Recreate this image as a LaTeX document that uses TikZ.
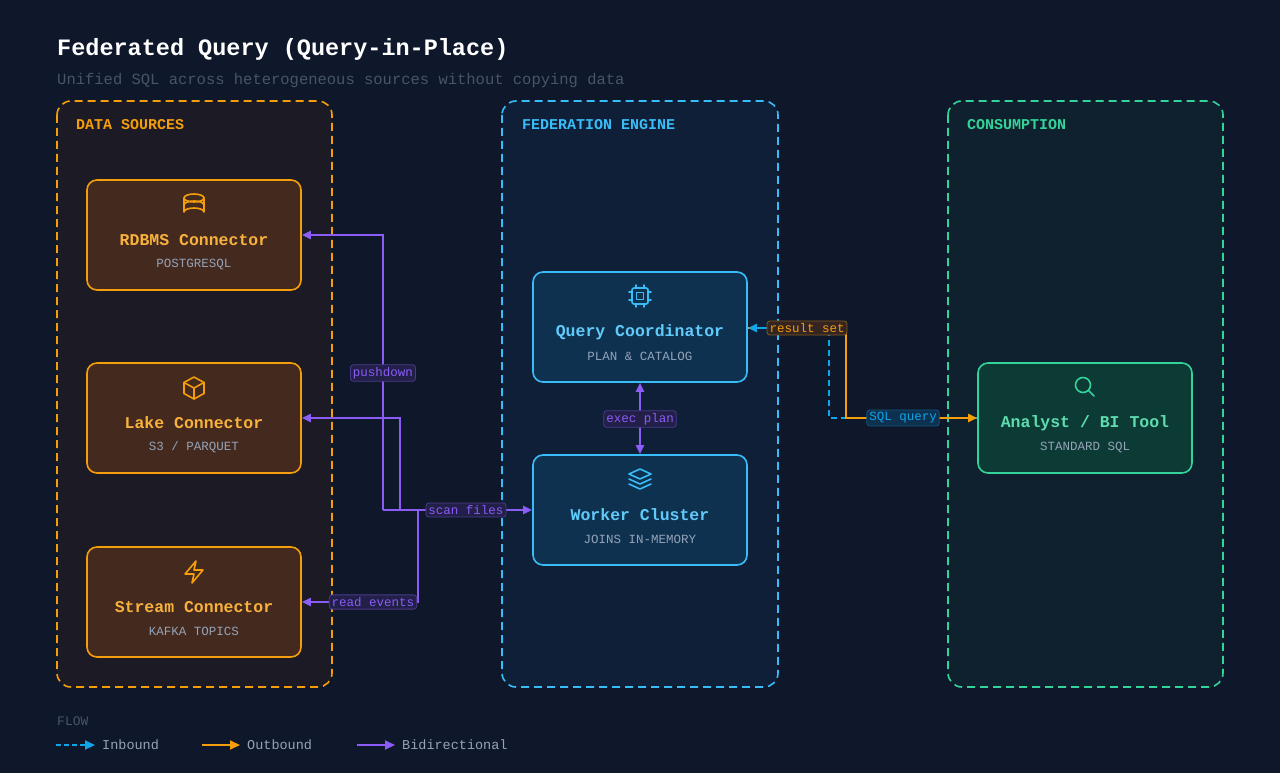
\documentclass[tikz,border=0pt]{standalone}
\usepackage{fontspec}
\setmainfont{Liberation Mono}
\usetikzlibrary{arrows.meta}
\definecolor{bg}{HTML}{0F172A}
\definecolor{org}{HTML}{F59E0B}
\definecolor{orgfill}{HTML}{44291E}
\definecolor{orggrp}{HTML}{1C1A24}
\definecolor{blu}{HTML}{38BDF8}
\definecolor{blufill}{HTML}{0E3150}
\definecolor{blugrp}{HTML}{0F1F38}
\definecolor{grn}{HTML}{34D399}
\definecolor{grnfill}{HTML}{0C3A35}
\definecolor{grngrp}{HTML}{0F202E}
\definecolor{pur}{HTML}{8B5CF6}
\definecolor{purfill}{HTML}{221F48}
\definecolor{purdraw}{HTML}{4A3A8A}
\definecolor{subc}{HTML}{94A3B8}
\definecolor{dimc}{HTML}{475569}
\definecolor{lblue}{HTML}{0EA5E9}
\tikzset{
  x=1pt,y=-1pt,
  grp/.style={draw=#1,dash pattern=on 8pt off 5pt,line width=1.6pt,rounded corners=14pt},
  box/.style={draw=#1,line width=1.6pt,rounded corners=10pt,minimum width=214pt,minimum height=110pt,inner sep=0pt},
  ttl/.style={font=\bfseries\fontsize{16.5}{18}\selectfont,text=#1},
  sub/.style={font=\fontsize{12.5}{14}\selectfont,text=subc},
  glbl/.style={font=\bfseries\fontsize{15}{16}\selectfont,text=#1,anchor=west},
  lbl/.style={font=\fontsize{12.5}{14}\selectfont,rounded corners=3pt,inner sep=2.5pt,line width=0.8pt},
  plbl/.style={lbl,fill=purfill,draw=purdraw,text=pur},
  pa/.style={draw=pur,line width=2pt,-{Triangle[length=9pt,width=8pt]}},
  ic/.style={line width=1.6pt,line join=round,line cap=round},
  leg/.style={anchor=west,text=subc,font=\fontsize{13.5}{15}\selectfont},
}
\begin{document}
\begin{tikzpicture}
\fill[bg] (0,0) rectangle (1280,773);
\useasboundingbox (0,0) rectangle (1280,773);
\node[anchor=west,inner sep=0pt,text=white,font=\bfseries\fontsize{23.5}{26}\selectfont] (title) at (57,49) {Federated Query (Query-in-Place)};
\node[anchor=west,inner sep=0pt,text=dimc,font=\fontsize{15.5}{17}\selectfont] (subtitle) at (57,80) {Unified SQL across heterogeneous sources without copying data};
% groups
\draw[grp=org,fill=orggrp] (57,101) rectangle (332,687);
\draw[grp=blu,fill=blugrp] (502,101) rectangle (778,687);
\draw[grp=grn,fill=grngrp] (948,101) rectangle (1223,687);
\node[glbl=org,inner sep=0pt] (g1) at (76,125) {DATA SOURCES};
\node[glbl=blu,inner sep=0pt] (g2) at (522,125) {FEDERATION ENGINE};
\node[glbl=grn,inner sep=0pt] (g3) at (967,125) {CONSUMPTION};
% nodes
\node[box=org,fill=orgfill] (rdbms) at (194,235) {};
\node[box=org,fill=orgfill] (lake) at (194,418) {};
\node[box=org,fill=orgfill] (stream) at (194,602) {};
\node[box=blu,fill=blufill] (coord) at (640,327) {};
\node[box=blu,fill=blufill] (worker) at (640,510) {};
\node[box=grn,fill=grnfill] (analyst) at (1085,418) {};
\foreach \n/\t/\s/\c in {rdbms/RDBMS Connector/POSTGRESQL/org, lake/Lake Connector/{S3 / PARQUET}/org, stream/Stream Connector/KAFKA TOPICS/org, coord/Query Coordinator/PLAN \& CATALOG/blu, worker/Worker Cluster/JOINS IN-MEMORY/blu, analyst/{Analyst / BI Tool}/STANDARD SQL/grn}{
  \node[ttl=\c!80!white] (\n-t) at ([yshift=-5pt]\n.center) {\t};
  \node[sub] (\n-s) at ([yshift=-29pt]\n.center) {\s};
}
% icons
\begin{scope}[ic,draw=org,shift={(194,205)}]
  \draw (0,-7) ellipse (10 and 4);
  \draw (-10,-7) -- (-10,7) arc[start angle=180,end angle=360,x radius=10,y radius=4] -- (10,-7);
  \draw (-10,0) arc[start angle=180,end angle=360,x radius=10,y radius=4];
\end{scope}
\begin{scope}[ic,draw=org,shift={(194,388)}]
  \draw (0,-11) -- (10,-5.5) -- (10,5.5) -- (0,11) -- (-10,5.5) -- (-10,-5.5) -- cycle;
  \draw (-10,-5.5) -- (0,0) -- (10,-5.5) (0,0) -- (0,11);
\end{scope}
\begin{scope}[ic,draw=org,shift={(194,572)}]
  \draw (2,-11) -- (-9,2) -- (0,2) -- (-2,11) -- (9,-2) -- (0,-2) -- cycle;
\end{scope}
\begin{scope}[ic,draw=blu,shift={(640,296)}]
  \draw[rounded corners=2pt] (-8,-8) rectangle (8,8);
  \draw (-3.5,-3.5) rectangle (3.5,3.5);
  \foreach \p in {-4,4}{\draw (\p,-8)--(\p,-11) (\p,8)--(\p,11) (-8,\p)--(-11,\p) (8,\p)--(11,\p);}
\end{scope}
\begin{scope}[ic,draw=blu,shift={(640,479)}]
  \draw (0,-10) -- (11,-5) -- (0,0) -- (-11,-5) -- cycle;
  \draw (-11,0) -- (0,5) -- (11,0);
  \draw (-11,5) -- (0,10) -- (11,5);
\end{scope}
\begin{scope}[ic,draw=grn,shift={(1085,387)}]
  \draw (-2,-2) circle (7.5);
  \draw (3.5,3.5) -- (9,9);
\end{scope}
% purple connectors
\coordinate (j1) at (383,510);
\coordinate (j2) at (400,510);
\coordinate (j3) at (418,510);
\draw[pa] (j1) -- (383,235) -- (rdbms.east |- 0,235);
\draw[pa] (j2) -- (400,418) -- (lake.east);
\draw[pa] (j3) -- (418,602) -- (stream.east);
\draw[pa] (j1) -- (worker.west);
\node[plbl] (l1) at (383,373) {pushdown};
\node[plbl] (l2) at (466,510) {scan files};
\node[plbl] (l3) at (373,602) {read events};
\draw[draw=pur,line width=2pt,{Triangle[length=9pt,width=8pt]}-{Triangle[length=9pt,width=8pt]}] (coord.south) -- (worker.north);
\node[plbl] (l4) at (640,419) {exec plan};
% right connectors
\draw[draw=lblue,line width=2pt,dash pattern=on 6pt off 4pt] (analyst.west) -- (829,418) -- (829,328);
\draw[draw=org,line width=2pt,-{Triangle[length=9pt,width=8pt]}] (coord.east |- 0,328) -- (846,328) -- (846,418) -- (analyst.west);
\draw[draw=lblue,line width=2pt,-{Triangle[length=9pt,width=8pt]}] (770,328) -- (coord.east |- 0,328);
\node[lbl,fill=orgfill!70!bg,draw=org!50!bg,text=org] (l5) at (807,328) {result set};
\node[lbl,fill=blufill,draw=lblue!45!bg,text=lblue] (l6) at (903,418) {SQL query};
% legend
\node[anchor=west,inner sep=0pt,text=dimc,font=\fontsize{13}{15}\selectfont] (flow) at (57,721) {FLOW};
\coordinate (a1) at (56,745); \coordinate (a2) at (95,745);
\coordinate (b1) at (202,745); \coordinate (b2) at (240,745);
\coordinate (c1) at (357,745); \coordinate (c2) at (395,745);
\draw[draw=lblue,line width=2pt,dash pattern=on 5pt off 3pt] (a1) -- ([xshift=-9pt]a2);
\draw[draw=lblue,line width=2pt,-{Triangle[length=10pt,width=9pt]}] ([xshift=-10pt]a2) -- (a2);
\draw[draw=org,line width=2pt,-{Triangle[length=10pt,width=9pt]}] (b1) -- (b2);
\draw[draw=pur,line width=2pt,-{Triangle[length=10pt,width=9pt]}] (c1) -- (c2);
\node[leg,inner sep=0pt] (li) at (102,745) {Inbound};
\node[leg,inner sep=0pt] (lo) at (247,745) {Outbound};
\node[leg,inner sep=0pt] (lb) at (402,745) {Bidirectional};
\end{tikzpicture}
\end{document}
